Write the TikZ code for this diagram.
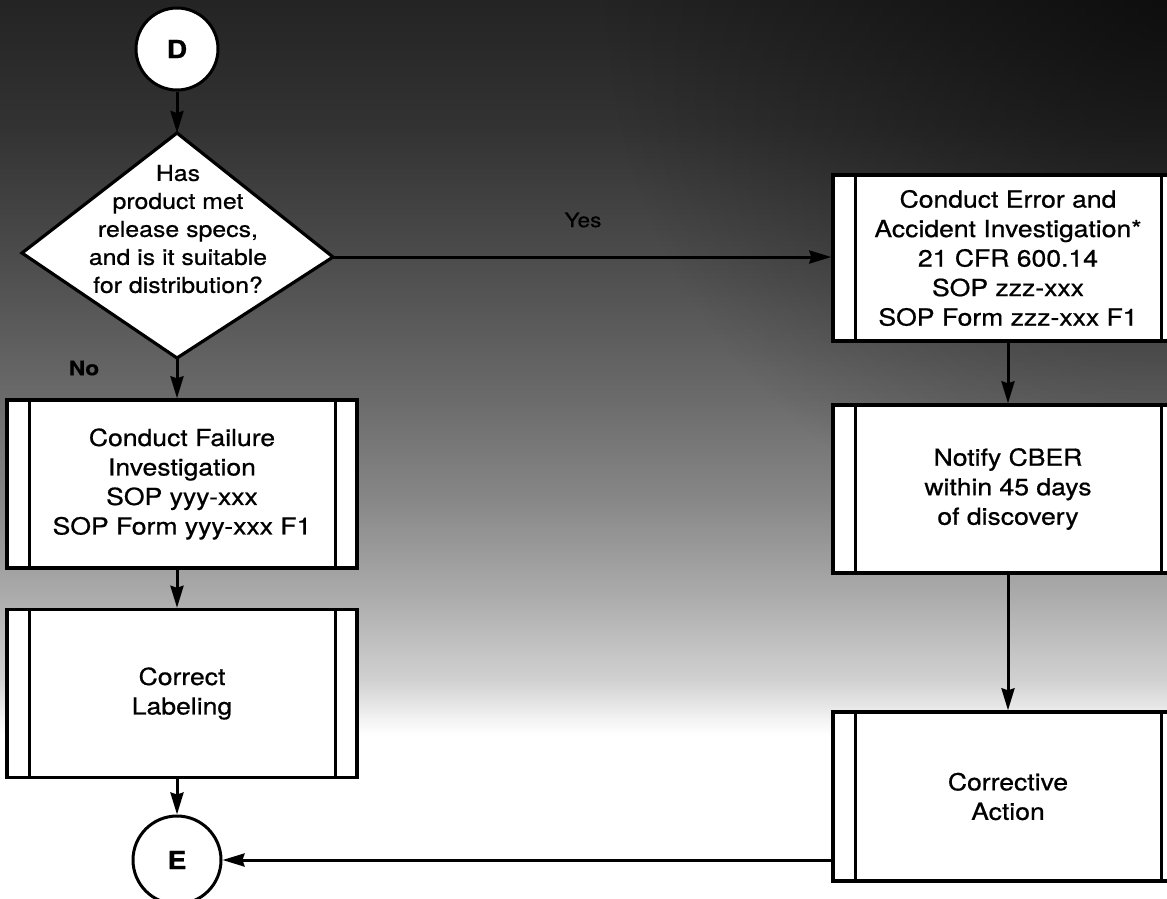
\documentclass[tikz,border=0pt]{standalone}
\usepackage{fontspec}
\setmainfont{TeX Gyre Heros}[FakeStretch=1.13, FakeBold=0.7]
\usetikzlibrary{arrows.meta,fadings}
\tikzfading[name=cornerfade, inner color=transparent!0, outer color=transparent!100]
\begin{document}
\begin{tikzpicture}[x=1pt,y=-1pt,
  proc/.style={draw, fill=white, line width=3.4pt, minimum width=350pt,
    minimum height=168pt, inner sep=0pt, align=center,
    font=\fontsize{23.5}{29.5}\selectfont,
    path picture={\draw[line width=3pt]
      ([xshift=22pt]path picture bounding box.north west) -- ([xshift=22pt]path picture bounding box.south west)
      ([xshift=-22pt]path picture bounding box.north east) -- ([xshift=-22pt]path picture bounding box.south east);}},
  conn/.style={circle, draw, fill=white, line width=3pt, inner sep=0pt,
    font=\bfseries\fontsize{25}{25}\selectfont},
  arr/.style={line width=3pt, -{Stealth[length=22pt,width=13pt,inset=2pt]}},
  lbl/.style={font=\fontsize{20}{20}\selectfont, inner sep=1pt}]
\useasboundingbox (0,0) rectangle (1167,898);
\clip (0,0) rectangle (1167,898);

% shaded backdrop, dark at the top fading to white
\fill[white] (0,0) rectangle (1167,898);
\foreach \ya/\yb/\ca/\cb in {0/131/86/80, 130/261/80/70, 260/401/70/58,
    400/501/58/47, 500/601/47/32, 600/681/32/18, 680/716/18/6, 715/735/6/0}
  \shade[top color=black!\ca, bottom color=black!\cb] (0,\ya) rectangle (1167,\yb);
\fill[black, opacity=0.6, path fading=cornerfade] (1167,0) circle (560);

% decision
\coordinate (dT) at (177,133);
\coordinate (dR) at (333,257);
\coordinate (dB) at (177,358);
\coordinate (dL) at (22,253);
\draw[fill=white, line width=3.2pt, line join=miter] (dT) -- (dR) -- (dB) -- (dL) -- cycle;
\node[align=center, inner sep=0pt, font=\fontsize{22}{28}\selectfont] (q) at (178,229)
  {Has\\product met\\release specs,\\and is it suitable\\for distribution?};

% connectors (off-page references)
\node[conn, minimum size=82pt] (D) at (177,49) {D};
\node[conn, minimum size=88pt] (E) at (177,860) {E};

% process boxes
\node[proc] (L1) at (182,484) {Conduct Failure\\Investigation\\SOP yyy-xxx\\SOP Form yyy-xxx F1};
\node[proc] (L2) at (182,693.5) {Correct\\Labeling};
\node[proc, minimum height=166pt] (R1) at (1008,258) {Conduct Error and\\Accident Investigation*\\21 CFR 600.14\\SOP zzz-xxx\\SOP Form zzz-xxx F1};
\node[proc] (R2) at (1008,489) {Notify CBER\\within 45 days\\of discovery};
\node[proc, minimum height=169pt] (R3) at (1008,796.5) {Corrective\\Action};

% flow
\draw[arr] (D) -- (dT);
\draw[arr] (dB) -- (dB |- L1.north);
\draw[arr] (L1.south -| dB) -- (L2.north -| dB);
\draw[arr] (L2.south -| E) -- (E);
\draw[arr] (dR) -- (dR -| R1.west);
\draw[arr] (R1) -- (R2);
\draw[arr] (R2) -- (R3);
\draw[arr] (E.east -| R3.west) -- (E.east);

% branch labels
\node[lbl] (yes) at (583,220) {Yes};
\node[lbl, font=\bfseries\fontsize{20}{20}\selectfont] (no) at (84,368) {No};
\end{tikzpicture}
\end{document}
